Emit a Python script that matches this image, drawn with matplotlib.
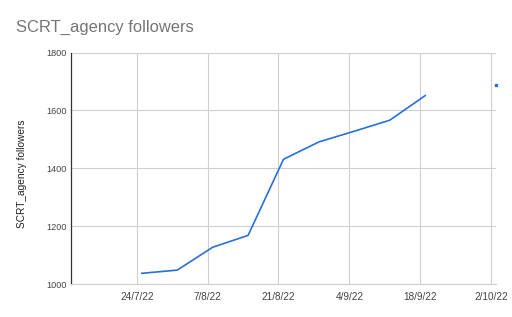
import matplotlib
matplotlib.use("Agg")
import matplotlib.pyplot as plt
import matplotlib.dates as mdates
import numpy as np
import pandas as pd

# datos
fechas = ["2022-07-25", "2022-08-01", "2022-08-08", "2022-08-15", "2022-08-22",
          "2022-08-29", "2022-09-05", "2022-09-12", "2022-09-19", "2022-09-26",
          "2022-10-03"]
seguidores = [1037, 1048, 1127, 1168, 1431, 1491, 1528, 1566, 1651, np.nan, 1689]
ticks_x = ["2022-07-24", "2022-08-07", "2022-08-21", "2022-09-04", "2022-09-18", "2022-10-02"]
ticks_y = [1000, 1200, 1400, 1600, 1800]

titulo = "SCRT_agency followers"

plt.rcParams['font.family'] = ['Liberation Sans', 'DejaVu Sans']

x = pd.to_datetime(fechas)
y = np.array(seguidores, dtype=float)

fig = plt.figure(figsize=(5.12, 3.17), dpi=100)
ax = fig.add_axes([71 / 512, 1 - 284 / 317, (496 - 71) / 512, (284 - 52.5) / 317])

azul = "#2a6fdb"
ax.plot(x, y, color=azul, lw=1.2, zorder=3)

# puntos aislados (sin vecinos) se marcan para que se vean
vecino_ant = np.r_[np.nan, y[:-1]]
vecino_sig = np.r_[y[1:], np.nan]
aislado = ~np.isnan(y) & np.isnan(vecino_ant) & np.isnan(vecino_sig)
ax.plot(x[aislado], y[aislado], ls="none", marker="s", ms=1.5, color=azul, zorder=3, clip_on=False)

ax.set_xlim(pd.Timestamp("2022-07-11"), pd.Timestamp("2022-10-03"))
ax.set_ylim(1000, 1800)
ax.set_yticks(ticks_y)
ax.set_xticks(pd.to_datetime(ticks_x))
ax.xaxis.set_major_formatter(plt.FuncFormatter(
    lambda v, pos: (lambda d: f"{d.day}/{d.month}/{d.strftime('%y')}")(mdates.num2date(v))))

ax.grid(True, color="#d0d0d0", lw=0.8)
ax.set_axisbelow(True)
for s in ["top", "right"]:
    ax.spines[s].set_visible(False)
ax.spines["bottom"].set_color("#d0d0d0")
ax.spines["left"].set_color("#333333")
ax.spines["left"].set_linewidth(0.9)
ax.tick_params(axis="both", length=0, colors="#444444")
ax.tick_params(axis="x", pad=6, labelsize=7.2)
ax.tick_params(axis="y", pad=3, labelsize=6.6)

ax.set_ylabel(titulo, fontsize=7.3, color="#222222", va="center")
ax.yaxis.set_label_coords((22.5 - 71) / 425, (284 - 174) / 231.5)
fig.text(16 / 512, 1 - 27 / 317, titulo, fontsize=11.9, color="#757575", va="center", ha="left")

fig.savefig("out.png", dpi=100)
